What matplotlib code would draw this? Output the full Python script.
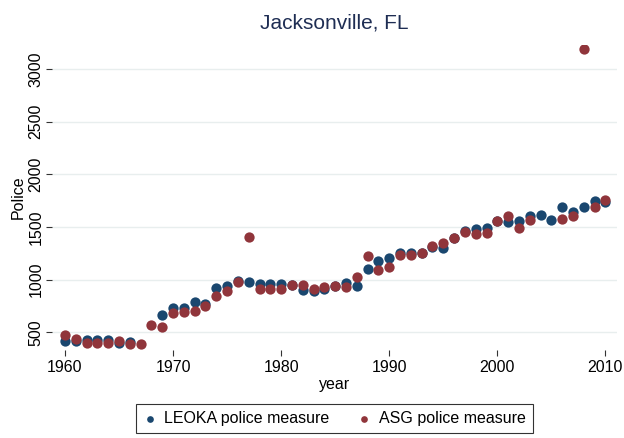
import numpy as np
import matplotlib
matplotlib.use("Agg")
import matplotlib.pyplot as plt

years = list(range(1960, 2011))
nan = np.nan
leoka = [420, 420, 427, 427, 427, 395, 405, nan, nan, 664,
         728, 728, 785, 769, 918, 937, 988, 981, 959, 959,
         956, 945, 902, 895, 912, 943, 966, 943, 1099, 1178,
         1209, 1257, 1257, 1257, 1308, 1303, 1396, 1460, 1482, 1488,
         1555, 1552, 1561, 1609, 1615, 1567, 1688, 1640, 1691, 1748,
         1741]
asg = [474, 436, 395, 398, 398, 417, 386, 392, 569, 553,
       680, 696, 705, 753, 848, 893, 975, 1403, 912, 912,
       912, 950, 952, 912, 928, 943, 934, 1028, 1225, 1090,
       1118, 1230, 1235, 1252, 1320, 1346, 1396, 1453, 1434, 1444,
       1555, 1609, 1494, 1567, nan, nan, 1577, 1603, 3193, 1694,
       1758]
yticks = [500, 1000, 1500, 2000, 2500, 3000]
xticks = [1960, 1970, 1980, 1990, 2000, 2010]

plt.rcParams['font.family'] = ['Liberation Sans', 'DejaVu Sans']

fig = plt.figure(figsize=(6.24, 4.38), dpi=100)
ax = fig.add_axes([0.0833, 0.201, 0.906, 0.696])

blue = '#1a476f'
red = '#90353b'
ax.scatter(years, leoka, s=55, color=blue, linewidths=0, zorder=3,
           label='LEOKA police measure')
ax.scatter(years, asg, s=55, color=red, linewidths=0, zorder=4,
           label='ASG police measure')

ax.set_xlim(1958.8, 2011.1)
ax.set_ylim(332, 3228)
ax.set_xticks(xticks)
ax.set_yticks(yticks)
ax.set_yticklabels([str(v) for v in yticks], rotation=90, va='center')
ax.tick_params(axis='both', labelsize=11.5, color='#333333', length=4,
               width=0.8)
ax.tick_params(axis='y', pad=2)
ax.grid(axis='y', color='#e8eeee', linewidth=1.0)
ax.set_axisbelow(True)
for sp in ax.spines.values():
    sp.set_visible(False)

ax.set_xlabel('year', fontsize=11.5, labelpad=1)
ax.set_ylabel('Police', fontsize=11.5, labelpad=2)
ax.set_title('Jacksonville, FL', fontsize=15, color='#1e2d53', pad=12)

leg = fig.legend(loc='center', bbox_to_anchor=(0.536, 0.0445),
                 ncol=2, frameon=True, fontsize=11.5, fancybox=False,
                 edgecolor='black', handletextpad=0.5, columnspacing=1.8,
                 handlelength=0.8, markerscale=0.65, borderpad=0.45,
                 borderaxespad=0)
leg.get_frame().set_linewidth(0.8)

fig.savefig('out.png', dpi=100, facecolor='white')
